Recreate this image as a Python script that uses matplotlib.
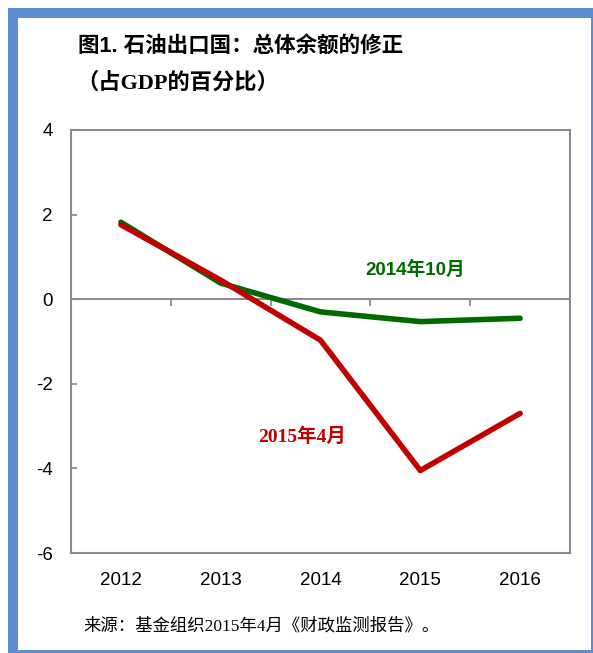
"""Oil exporters: revision of overall balance (% of GDP)."""
import matplotlib
matplotlib.use("Agg")
import matplotlib.pyplot as plt
from matplotlib.patches import Rectangle

SANS = ["Liberation Sans", "Noto Sans CJK SC"]
SERIF = ["Liberation Serif", "Noto Sans CJK SC"]
plt.rcParams["font.family"] = SANS

years = ["2012", "2013", "2014", "2015", "2016"]
oct2014 = [1.82, 0.38, -0.30, -0.53, -0.45]
apr2015 = [1.76, 0.45, -0.97, -4.05, -2.70]
yticks = [4, 2, 0, -2, -4, -6]

GREEN = "#006a00"
RED = "#c00000"
GRAY = "#8c8c8c"
BLUE = "#5a8fd6"

W, H = 593, 653
fig = plt.figure(figsize=(W / 100, H / 100), dpi=100)
ax = fig.add_axes([71 / W, 1 - 553 / H, (570 - 71) / W, (553 - 130) / H])

x = list(range(len(years)))
ax.axhline(0, color=GRAY, lw=1.5, zorder=1)
ax.plot([i + 0.5 for i in x[:-1]], [0] * (len(x) - 1), ls="none",
        marker=3, ms=5, mew=1.3, color=GRAY, zorder=1)
ax.plot(x, oct2014, color=GREEN, lw=4, solid_capstyle="round", zorder=2)
ax.plot(x, apr2015, color=RED, lw=4, solid_capstyle="round", zorder=3)

ax.set_xlim(-0.5, 4.5)
ax.set_ylim(-6, 4)
ax.set_xticks(x)
ax.set_xticklabels(years)
ax.set_yticks(yticks)
ax.set_yticklabels([str(v) for v in yticks])
ax.tick_params(axis="x", length=0, pad=14, labelsize=13.5)
ax.tick_params(axis="y", direction="in", length=4, width=1.3, color=GRAY,
               pad=13, labelsize=13.5)
for s in ax.spines.values():
    s.set_color(GRAY)
    s.set_linewidth(1.5)

ax.text(2.95, 0.7, "2014年10月", color=GREEN, fontsize=13.5, fontweight="bold",
        ha="center", va="center", family=SANS)
ax.text(1.82, -3.25, "2015年4月", color=RED, fontsize=14, fontweight="bold",
        ha="center", va="center", family=SERIF)

fig.text(78 / W, 1 - 47 / H, "图1. 石油出口国：总体余额的修正", fontsize=15.5,
         fontweight="bold", ha="left", va="center", family=SANS)
fig.text(76 / W, 1 - 83 / H, "（占GDP的百分比）", fontsize=16,
         fontweight="bold", ha="left", va="center", family=SERIF)
fig.text(83 / W, 1 - 626 / H, "来源：基金组织2015年4月《财政监测报告》。",
         fontsize=12.5, ha="left", va="center", family=SERIF)

# blue frame: thick left/top, thin right/bottom
frame = [(8, 8, 10, H - 8), (8, 8, W - 8, 10), (W - 2, 8, 2, H - 8), (8, H - 3, W - 8, 3)]
for px, py, pw, ph in frame:
    fig.patches.append(Rectangle((px / W, 1 - (py + ph) / H), pw / W, ph / H,
                                 transform=fig.transFigure, color=BLUE, lw=0))

fig.savefig("out.png", dpi=100)
